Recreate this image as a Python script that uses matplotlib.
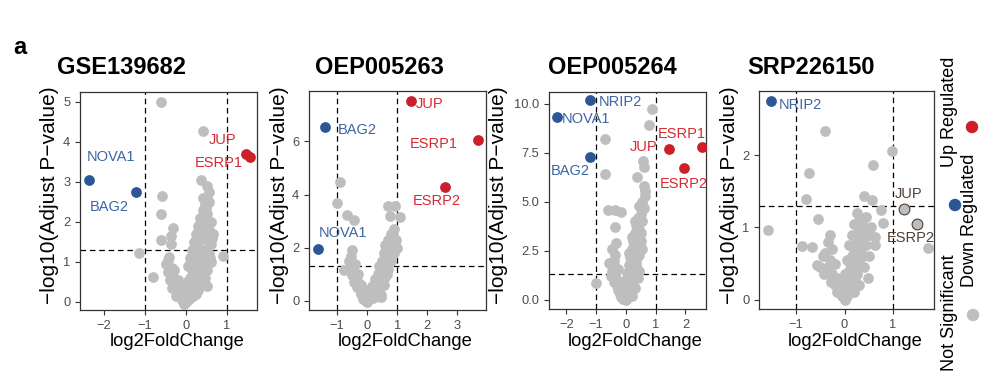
import matplotlib.pyplot as plt

plt.rcParams['font.family'] = ['Liberation Sans', 'DejaVu Sans']

# ---- data ----
titles = ["GSE139682", "OEP005263", "OEP005264", "SRP226150"]

# GSE139682
p1_grey_x = [-0.61, 0.41, 0.37, -0.59, -0.61, -0.32, -0.37, -0.61, -0.37, -0.81, 0.89, -1.15, -0.41,
             0.52, 0.55, 0.5, 0.45, 0.55, 0.4, 0.5, 0.35, 0.45, 0.6, 0.3, 0.4, 0.55, 0.65, 0.25, 0.35, 0.5,
             0.6, 0.2, 0.3, 0.45, 0.55, 0.15, 0.25, 0.4, 0.6, 0.1, 0.2, 0.35, 0.5, 0.05, 0.15, 0.3,
             0.45, 0.1, 0.2, 0.35, 0.05, 0.15, 0.25, 0.0, 0.1, 0.0, 0.05,
             -0.5, -0.45, -0.35, -0.4, -0.3, -0.25, -0.35, -0.2, -0.15, -0.1, -0.25, -0.05, -0.3, -0.2, -0.15,
             0.48, 0.42, 0.38, 0.3, 0.22, 0.12, 0.62, 0.58, 0.48, 0.4, 0.28, 0.18, 0.08, -0.1, -0.45,
             -0.05, 0.02, 0.32, 0.5, 0.42]
p1_grey_y = [4.99, 4.28, 3.05, 2.65, 2.2, 1.84, 1.66, 1.55, 1.45, 0.63, 1.15, 1.23, 1.13,
             2.9, 2.75, 2.6, 2.45, 2.5, 2.3, 2.2, 2.1, 2.0, 2.0, 1.9, 1.85, 1.8, 1.7, 1.7, 1.6, 1.55,
             1.45, 1.5, 1.4, 1.3, 1.2, 1.3, 1.2, 1.1, 1.0, 1.1, 1.0, 0.9, 0.8, 0.9, 0.8, 0.7,
             0.6, 0.6, 0.5, 0.45, 0.4, 0.3, 0.2, 0.2, 0.1, 0.0, 0.05,
             0.95, 0.75, 0.85, 0.55, 0.6, 0.4, 0.35, 0.25, 0.15, 0.05, 0.15, 0.1, 0.8, 0.55, 0.4,
             2.35, 2.15, 1.65, 1.25, 0.85, 0.45, 1.6, 1.1, 1.05, 0.7, 0.3, 0.15, 0.3, 0.3, 1.05,
             -0.05, 0.5, 1.05, 0.4, 2.6]
p1_genes = ["NOVA1", "BAG2", "JUP", "ESRP1"]
p1_fc = [-2.37, -1.22, 1.46, 1.56]
p1_p = [3.05, 2.76, 3.7, 3.63]
p1_status = ["down", "down", "up", "up"]

# OEP005263
p2_grey_x = [-0.89, -1.0, -0.67, -0.45, 0.7, 0.75, 0.94, 1.09, -0.78, -0.51, 0.45,
             0.9, 0.8, 0.95, 0.7, 0.85, 1.0, 0.6, 0.75, 0.9, 0.55, 0.65, 0.8, 0.5, 0.6, 0.7, 0.4, 0.5,
             0.35, 0.45, 0.6, 0.3, 0.4, 0.2, 0.3, 0.15, 0.25, 0.1, 0.05, 0.45, 0.35,
             -0.55, -0.6, -0.5, -0.45, -0.4, -0.3, -0.35, -0.25, -0.2, -0.1, -0.15, -0.05, 0.0,
             -0.3, -0.2, -0.4, -0.5,
             0.85, 0.7, 0.55, 0.4, 0.25, 0.15, 0.2, -0.1, -0.25, -0.45, 0.0, 0.55, 0.65]
p2_grey_y = [4.49, 3.67, 3.23, 3.05, 3.55, 3.2, 3.57, 3.17, 1.16, 1.91, 0.15,
             2.7, 2.5, 2.3, 2.3, 2.1, 2.0, 2.1, 1.9, 1.8, 1.8, 1.6, 1.5, 1.5, 1.3, 1.2, 1.3, 1.1,
             1.0, 0.85, 0.9, 0.7, 0.6, 0.5, 0.4, 0.3, 0.2, 0.15, 0.05, 0.2, 0.3,
             1.7, 1.5, 1.3, 1.1, 0.9, 0.7, 0.5, 0.4, 0.25, 0.15, 0.05, 0.0, 0.1,
             1.0, 0.6, 1.4, 0.95,
             2.4, 1.7, 1.25, 0.95, 0.8, 0.55, 0.1, 0.4, 0.55, 0.7, -0.05, 0.6, 1.0]
p2_genes = ["JUP", "BAG2", "ESRP1", "ESRP2", "NOVA1"]
p2_fc = [1.46, -1.41, 3.69, 2.6, -1.63]
p2_p = [7.51, 6.53, 6.06, 4.3, 1.95]
p2_status = ["up", "down", "up", "up", "down"]

# OEP005264
p3_grey_x = [0.87, 0.76, -0.69, -0.71, -1.0, 0.57, 0.61, 0.36, 0.65, -0.6, -0.37, -0.15, -0.37, -0.32,
             0.65, 0.55, 0.6, 0.45, 0.5, 0.4, 0.55, 0.35, 0.45, 0.3, 0.4, 0.5, 0.25, 0.35, 0.2, 0.3,
             0.45, 0.15, 0.25, 0.35, 0.1, 0.2, 0.3, 0.05, 0.15, 0.25, 0.4, 0.05, 0.15, 0.3, 0.0, 0.1,
             0.2, 0.0, 0.05, 0.5, 0.6,
             -0.55, -0.45, -0.5, -0.35, -0.4, -0.3, -0.25, -0.2, -0.15, -0.1, -0.35, -0.3, -0.2, -0.45,
             0.3, 0.2, 0.1, -0.05, -0.1, 0.35, 0.55, 0.45, -0.25, -0.4, 0.0, 0.2]
p3_grey_y = [9.73, 8.93, 8.21, 6.43, 0.85, 7.1, 6.8, 6.29, 5.53, 4.59, 4.59, 4.5, 3.74, 2.89,
             5.3, 5.0, 4.7, 4.8, 4.4, 4.2, 4.0, 3.8, 3.6, 3.4, 3.2, 3.0, 3.0, 2.8, 2.6, 2.4,
             2.3, 2.2, 2.0, 1.8, 1.8, 1.6, 1.4, 1.4, 1.2, 1.0, 1.1, 0.9, 0.7, 0.6, 0.5, 0.3,
             0.2, 0.0, 0.1, 3.4, 5.8,
             1.9, 1.5, 1.2, 1.3, 0.9, 0.7, 0.5, 0.3, 0.15, 0.05, 2.3, 1.0, 0.8, 2.6,
             4.0, 3.2, 2.4, 0.8, 0.4, 2.0, 2.6, 1.5, 1.6, 2.0, 1.0, 0.5]
p3_genes = ["NRIP2", "NOVA1", "BAG2", "JUP", "ESRP1", "ESRP2"]
p3_fc = [-1.22, -2.3, -1.22, 1.44, 2.54, 1.95]
p3_p = [10.17, 9.32, 7.31, 7.7, 7.79, 6.72]
p3_status = ["down", "down", "down", "up", "up", "up"]

# SRP226150
p4_grey_x = [-0.41, 0.99, 0.59, -0.74, -0.79, -1.59, 1.72, -0.54, 0.41, 0.57, 0.75, 0.79, -0.88,
             -0.67, -0.57, 0.63,
             0.25, 0.3, 0.2, 0.4, 0.3, 0.5, 0.15, 0.35, 0.25, 0.45, 0.1, 0.2, 0.35, 0.5, 0.15, 0.3,
             0.05, 0.2, 0.4, 0.1, 0.25, 0.05, 0.15, 0.3, 0.0, 0.1, 0.2, 0.0, 0.05,
             -0.3, -0.35, -0.25, -0.4, -0.3, -0.2, -0.35, -0.25, -0.15, -0.2, -0.1, -0.05, -0.45, -0.15,
             0.55, 0.45, 0.38, 0.22, 0.12, -0.5, -0.42, -0.28, -0.08, 0.0, 0.28, 0.62, 0.48]
p4_grey_y = [2.34, 2.06, 1.87, 1.76, 1.39, 0.96, 0.72, 1.11, 1.44, 1.38, 1.24, 1.06, 0.74,
             0.73, 0.48, 0.87,
             1.2, 1.1, 1.05, 1.0, 0.95, 0.9, 0.9, 0.85, 0.8, 0.75, 0.75, 0.7, 0.65, 0.6, 0.6, 0.55,
             0.55, 0.45, 0.45, 0.4, 0.35, 0.3, 0.25, 0.2, 0.2, 0.1, 0.1, 0.0, 0.05,
             0.9, 0.8, 0.7, 0.65, 0.55, 0.5, 0.45, 0.35, 0.3, 0.2, 0.15, 0.05, 0.6, 0.1,
             1.0, 1.15, 0.6, 0.3, 0.5, 0.45, 0.35, 0.25, 0.25, 0.35, 0.7, 0.75, 0.3]
p4_genes = ["NRIP2", "JUP", "ESRP2"]
p4_fc = [-1.52, 1.23, 1.49]
p4_p = [2.75, 1.26, 1.05]
p4_status = ["down", "ns", "ns"]

legend_labels = ["Up Regulated", "Down Regulated", "Not Significant"]

# ---- styling / layout ----
GREY = "#BEBEBE"
RED = "#CD1F2A"
BLUE = "#2B5796"
RED_TXT = "#D62A31"
BLUE_TXT = "#3C65A6"
NS_TXT = "#4F3E33"
FRAME = "#333333"
dot_col = {"up": RED, "down": BLUE, "ns": GREY}
txt_col = {"up": RED_TXT, "down": BLUE_TXT, "ns": NS_TXT}
PT = 60

W, H = 995, 384
fig = plt.figure(figsize=(W / 100, H / 100), dpi=100)


def px_axes(l, r, t, b):
    return fig.add_axes([l / W, 1 - b / H, (r - l) / W, (b - t) / H])


panels = [
    dict(grey=(p1_grey_x, p1_grey_y), genes=p1_genes, fc=p1_fc, p=p1_p, st=p1_status,
         lab=[(-1.83, 3.63), (-1.88, 2.38), (0.9, 4.05), (0.8, 3.48)],
         box=(80, 257, 92, 310), xlim=(-2.59, 1.73), ylim=(-0.2, 5.25),
         xt=[-2, -1, 0, 1], yt=[0, 1, 2, 3, 4, 5], fmt="{:g}",
         title_x=57, ylab_x=50, xlab_x=177),
    dict(grey=(p2_grey_x, p2_grey_y), genes=p2_genes, fc=p2_fc, p=p2_p, st=p2_status,
         lab=[(2.09, 7.42), (-0.34, 6.44), (2.2, 5.9), (2.31, 3.74), (-0.8, 2.54)],
         box=(309, 486, 91, 310), xlim=(-1.93, 3.95), ylim=(-0.35, 7.9),
         xt=[-1, 0, 1, 2, 3], yt=[0, 2, 4, 6], fmt="{:g}",
         title_x=315, ylab_x=280, xlab_x=405),
    dict(grey=(p3_grey_x, p3_grey_y), genes=p3_genes, fc=p3_fc, p=p3_p, st=p3_status,
         lab=[(-0.2, 10.09), (-1.34, 9.23), (-1.85, 6.58), (0.59, 7.79), (1.89, 8.45), (1.95, 5.92)],
         box=(549, 706, 92, 309), xlim=(-2.58, 2.69), ylim=(-0.46, 10.6),
         xt=[-2, -1, 0, 1, 2], yt=[0, 2.5, 5, 7.5, 10], fmt="{:.1f}",
         title_x=548, ylab_x=499, xlab_x=635),
    dict(grey=(p4_grey_x, p4_grey_y), genes=p4_genes, fc=p4_fc, p=p4_p, st=p4_status,
         lab=[(-0.91, 2.7), (1.33, 1.46), (1.37, 0.85)],
         box=(759, 934, 91, 309), xlim=(-1.77, 1.85), ylim=(-0.13, 2.89),
         xt=[-1, 0, 1], yt=[0, 1, 2], fmt="{:g}",
         title_x=747, ylab_x=730, xlab_x=855),
]

for title, pn in zip(titles, panels):
    ax = px_axes(*pn["box"])
    gx, gy = pn["grey"]
    ax.scatter(gx, gy, s=PT, color=GREY, linewidths=0, zorder=2)
    for g, x, y, st, (lx, ly) in zip(pn["genes"], pn["fc"], pn["p"], pn["st"], pn["lab"]):
        if st == "ns":
            ax.scatter(x, y, s=PT, facecolor=GREY, edgecolor=NS_TXT, linewidths=0.8, zorder=3)
        else:
            ax.scatter(x, y, s=PT, color=dot_col[st], linewidths=0, zorder=3)
        ax.text(lx, ly, g, color=txt_col[st], fontsize=10.5, ha="center", va="center", zorder=4)

    for v in (-1, 1):
        ax.axvline(v, color="black", lw=0.9, ls=(0, (4.5, 3)), zorder=1)
    ax.axhline(1.3, color="black", lw=0.9, ls=(0, (4.5, 3)), zorder=1)

    ax.set_xlim(*pn["xlim"])
    ax.set_ylim(*pn["ylim"])
    ax.set_xticks(pn["xt"])
    ax.set_yticks(pn["yt"])
    ax.set_yticklabels([pn["fmt"].format(v) for v in pn["yt"]])
    ax.tick_params(colors=FRAME, labelcolor="#4D4D4D", labelsize=9.3, length=3.5, width=0.8)
    for s in ax.spines.values():
        s.set_color(FRAME)
        s.set_linewidth(0.9)

    fig.text(pn["title_x"] / W, 1 - 68 / H, title, fontsize=17, fontweight="bold",
             ha="left", va="center")
    fig.text(pn["ylab_x"] / W, 1 - 195 / H, "\u2212log10(Adjust P\u2212value)", fontsize=15,
             rotation=90, ha="center", va="center")
    fig.text(pn["xlab_x"] / W, 1 - 342 / H, "log2FoldChange", fontsize=13.2,
             ha="center", va="center")

fig.text(20 / W, 1 - 47 / H, "a", fontsize=17, fontweight="bold", ha="center", va="center")

# legend (rotated, as in the original)
leg = fig.add_axes([0, 0, 1, 1], facecolor="none")
leg.set_xlim(0, W)
leg.set_ylim(H, 0)
leg.axis("off")
leg.scatter([972, 955, 973], [127, 205, 315], s=80, color=[RED, BLUE, GREY], linewidths=0)
for lbl, x, y in zip(legend_labels, [950, 969, 950], [112, 220, 313]):
    leg.text(x, y, lbl, fontsize=13, rotation=90, ha="center", va="center")

fig.savefig("out.png", dpi=100)
